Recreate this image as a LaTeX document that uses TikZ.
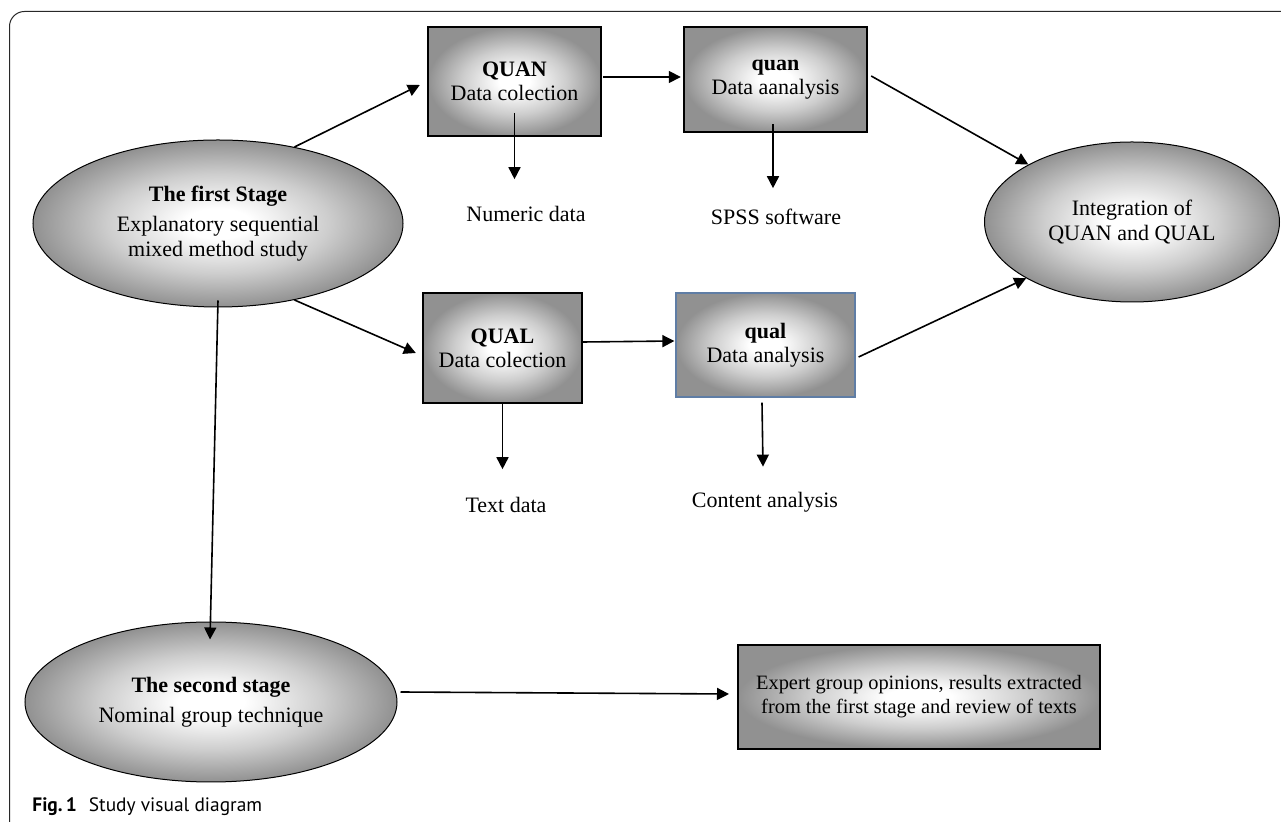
\documentclass[tikz,border=0pt]{standalone}
\usepackage{fontspec}
\setmainfont{Liberation Serif}
\newfontfamily\capfont{PT Sans}
\usetikzlibrary{arrows.meta,calc,shapes.geometric}
\definecolor{edgegray}{RGB}{145,145,145}
\definecolor{midgray}{RGB}{205,205,205}
\definecolor{framecol}{RGB}{40,40,40}
\definecolor{bluebord}{RGB}{95,125,165}
\pgfdeclareradialshading{glow}{\pgfpoint{0bp}{0bp}}{color(0bp)=(white); color(4.5bp)=(white); color(15bp)=(midgray); color(25bp)=(edgegray); color(50bp)=(edgegray)}
\tikzset{
  txt/.style={font=\fontsize{11}{12}\selectfont, align=center, inner sep=0pt},
  glowbox/.style={txt, rectangle, shading=glow, draw=black, line width=1.2pt},
  glowell/.style={txt, ellipse, shading=glow, draw=black, line width=0.5pt},
  plain/.style={txt, anchor=base},
  arr/.style={line width=0.8pt, -{Triangle[length=6pt,width=6pt]}},
}
\begin{document}
\begin{tikzpicture}[x=0.5pt,y=-0.5pt]
\useasboundingbox (0,0) rectangle (1281,822);
\clip (0,0) rectangle (1281,822);
\draw[framecol, line width=0.5pt, rounded corners=7.5pt] (9.5,11.5) rectangle (1300,840);

% nodes
\node[glowell, minimum width=185pt, minimum height=83.5pt] (s1) at (218,223.5)
  {\textbf{The first Stage}\\[3pt]Explanatory sequential\\[0.5pt]mixed method study};
\node[glowbox, minimum width=86.5pt, minimum height=54.5pt] (quanc) at (514.5,81.5)
  {\textbf{QUAN}\\Data colection};
\node[glowbox, minimum width=91.5pt, minimum height=52.5pt] (quana) at (775.5,79.5)
  {\textbf{quan}\\Data aanalysis};
\node[glowell, minimum width=147.5pt, minimum height=80pt] (integ) at (1132,222)
  {Integration of\\[0.5pt]QUAN and QUAL};
\node[glowbox, minimum width=79.5pt, minimum height=55pt] (qualc) at (502.5,348)
  {\textbf{QUAL}\\Data colection};
\node[glowbox, draw=bluebord, line width=0.6pt, minimum width=89.5pt, minimum height=52pt] (quala) at (765.5,345)
  {\textbf{qual}\\Data analysis};
\node[glowell, minimum width=186pt, minimum height=80pt] (s2) at (211,702)
  {\textbf{The second stage}\\[3pt]Nominal group technique};
\node[glowbox, line width=1pt, minimum width=181pt, minimum height=52pt,
      font=\fontsize{10.2}{12}\selectfont] (expert) at (919,697)
  {Expert group opinions, results extracted\\from the first stage and review of texts};

\node[plain] (numeric) at (526,222) {Numeric data};
\node[plain] (spss) at (776,225) {SPSS software};
\node[plain] (textdata) at (506,513) {Text data};
\node[plain] (content) at (765,508) {Content analysis};

\node[anchor=base west, inner sep=0pt, font=\capfont\fontsize{9.7}{11}\selectfont] (cap) at (32,812)
  {\textbf{Fig.\,1}\hspace{6pt}Study visual diagram};

% connectors
\draw[arr] (s1.45) -- ($(quanc.west)+(-7,3.5)$);
\draw[arr] (s1.-45) -- ($(qualc.west)+(-6,5)$);
\draw[arr] ($(s1.south)+(0,-7)$) -- ($(s2.north)+(-1,18)$);
\draw[arr] ($(quanc.east)+(1,-4.5)$) -- ($(quana.west)+(-2,-2.5)$);
\draw[arr] ($(quanc.center)+(0,31.5)$) -- ($(quanc.south)+(0,42)$);
\draw[arr] ($(quana.south)+(-2.5,-9)$) -- ($(quana.south)+(-2.5,55)$);
\draw[arr] ($(quana.east)+(3,-3.5)$) -- (integ.151);
\draw[arr] ($(qualc.east)+(0,-6)$) -- ($(quala.west)+(-1,-4)$);
\draw[arr] (qualc.south) -- ($(qualc.south)+(0,65)$);
\draw[arr] ($(quala.south)+(-3.5,5)$) -- ($(quala.south)+(-2.5,69)$);
\draw[arr] ($(quala.east)+(3,12)$) -- (integ.208);
\draw[arr] ($(s2.east)+(3,-10)$) -- ($(expert.west)+(-8,-3)$);
\end{tikzpicture}
\end{document}
